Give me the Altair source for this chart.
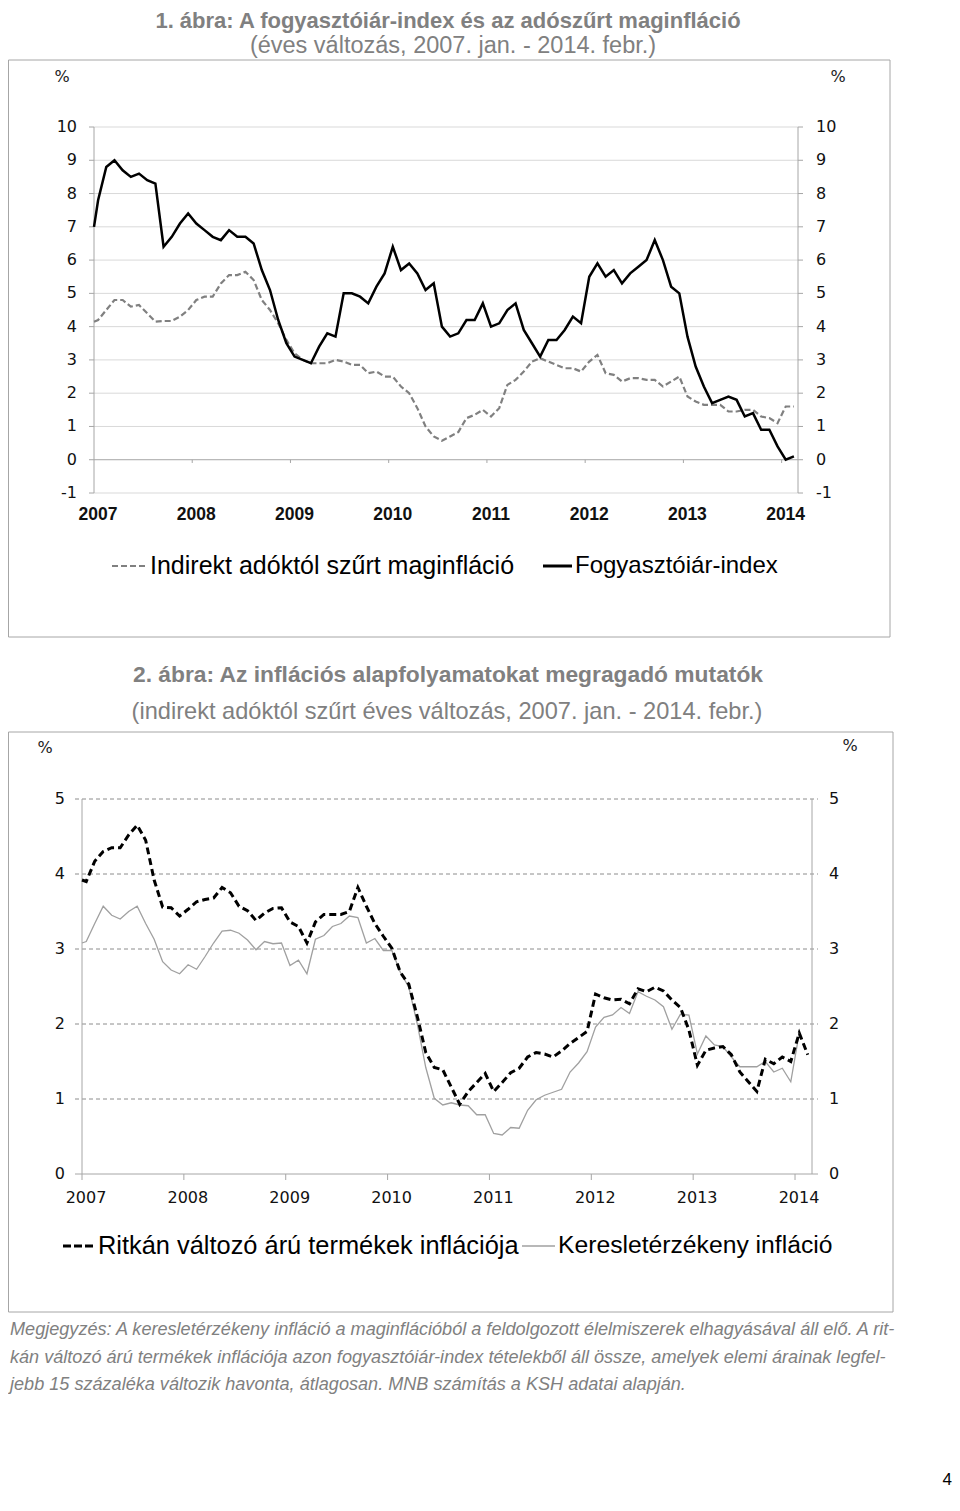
import altair as alt
import pandas as pd

# ------------------------------------------------------------------ data
YEARS = [2007, 2008, 2009, 2010, 2011, 2012, 2013, 2014]
N_MONTHS = 86  # 2007. jan. - 2014. febr.

# 1. ábra (annual change, %), monthly Jan 2007 .. Feb 2014
CPI = [7.8, 8.8, 9.0, 8.7, 8.5, 8.6, 8.4, 8.3, 6.4, 6.7, 7.1, 7.4,
       7.1, 6.9, 6.7, 6.6, 6.9, 6.7, 6.7, 6.5, 5.7, 5.1, 4.2, 3.5,
       3.1, 3.0, 2.9, 3.4, 3.8, 3.7, 5.0, 5.0, 4.9, 4.7, 5.2, 5.6,
       6.4, 5.7, 5.9, 5.6, 5.1, 5.3, 4.0, 3.7, 3.8, 4.2, 4.2, 4.7,
       4.0, 4.1, 4.5, 4.7, 3.9, 3.5, 3.1, 3.6, 3.6, 3.9, 4.3, 4.1,
       5.5, 5.9, 5.5, 5.7, 5.3, 5.6, 5.8, 6.0, 6.6, 6.0, 5.2, 5.0,
       3.7, 2.8, 2.2, 1.7, 1.8, 1.9, 1.8, 1.3, 1.4, 0.9, 0.9, 0.4,
       0.0, 0.1]
CORE = [4.2, 4.5, 4.8, 4.8, 4.6, 4.65, 4.4, 4.15, 4.17, 4.17, 4.3, 4.5,
        4.8, 4.9, 4.9, 5.3, 5.55, 5.55, 5.65, 5.4, 4.8, 4.5, 4.1, 3.6,
        3.2, 3.0, 2.9, 2.9, 2.9, 3.0, 2.95, 2.85, 2.85, 2.6, 2.65, 2.5,
        2.5, 2.2, 2.0, 1.55, 1.0, 0.7, 0.57, 0.7, 0.83, 1.25, 1.35, 1.5,
        1.3, 1.55, 2.25, 2.4, 2.65, 2.95, 3.05, 2.95, 2.85, 2.75, 2.75, 2.65,
        2.95, 3.15, 2.6, 2.55, 2.35, 2.45, 2.45, 2.4, 2.4, 2.2, 2.35, 2.5,
        1.9, 1.75, 1.65, 1.65, 1.65, 1.45, 1.45, 1.5, 1.5, 1.3, 1.25, 1.1,
        1.6, 1.6]
CPI_AT_AXIS, CORE_AT_AXIS = 7.0, 4.15

# 2. ábra
RARE = [3.9, 4.17, 4.3, 4.35, 4.35, 4.52, 4.65, 4.45, 3.92, 3.56, 3.55, 3.44,
        3.53, 3.63, 3.66, 3.68, 3.82, 3.75, 3.57, 3.51, 3.38, 3.48, 3.54, 3.55,
        3.36, 3.3, 3.08, 3.36, 3.46, 3.46, 3.46, 3.5, 3.82, 3.57, 3.34, 3.17,
        3.01, 2.69, 2.53, 2.1, 1.62, 1.42, 1.39, 1.16, 0.93, 1.1, 1.22, 1.34,
        1.1, 1.22, 1.35, 1.41, 1.56, 1.62, 1.6, 1.56, 1.64, 1.74, 1.82, 1.9,
        2.4, 2.35, 2.32, 2.33, 2.27, 2.47, 2.43, 2.49, 2.44, 2.32, 2.22, 1.92,
        1.45, 1.65, 1.68, 1.7, 1.59, 1.36, 1.23, 1.1, 1.53, 1.47, 1.56, 1.5,
        1.88, 1.59]
DEMAND = [3.1, 3.34, 3.57, 3.45, 3.4, 3.5, 3.57, 3.34, 3.13, 2.83, 2.72, 2.67,
          2.79, 2.73, 2.9, 3.08, 3.24, 3.25, 3.21, 3.12, 2.99, 3.1, 3.07, 3.08,
          2.78, 2.85, 2.67, 3.13, 3.18, 3.3, 3.34, 3.44, 3.42, 3.08, 3.14, 2.98,
          2.98, 2.69, 2.49, 2.0, 1.42, 1.01, 0.92, 0.95, 0.92, 0.91, 0.79, 0.79,
          0.54, 0.52, 0.62, 0.61, 0.85, 0.99, 1.05, 1.09, 1.13, 1.36, 1.48, 1.63,
          1.96, 2.09, 2.12, 2.22, 2.14, 2.43, 2.37, 2.32, 2.23, 1.93, 2.13, 2.12,
          1.6, 1.84, 1.72, 1.7, 1.56, 1.43, 1.43, 1.43, 1.5, 1.36, 1.41, 1.23,
          1.88]
RARE_AT_AXIS, DEMAND_AT_AXIS = 3.92, 3.08

Y1_TICKS = list(range(-1, 11))
Y2_TICKS = list(range(0, 6))

TITLE1 = "1. ábra: A fogyasztóiár-index és az adószűrt maginfláció"
SUB1 = "(éves változás, 2007. jan. - 2014. febr.)"
TITLE2 = "2. ábra: Az inflációs alapfolyamatokat megragadó mutatók"
SUB2 = "(indirekt adóktól szűrt éves változás, 2007. jan. - 2014. febr.)"
LEG1 = ["Indirekt adóktól szűrt maginfláció", "Fogyasztóiár-index"]
LEG2 = ["Ritkán változó árú termékek inflációja", "Keresletérzékeny infláció"]
NOTE = [
    "Megjegyzés: A keresletérzékeny infláció a maginflációból a feldolgozott élelmiszerek elhagyásával áll elő. A rit-",
    "kán változó árú termékek inflációja azon fogyasztóiár-index tételekből áll össze, amelyek elemi árainak legfel-",
    "jebb 15 százaléka változik havonta, átlagosan. MNB számítás a KSH adatai alapján.",
]
PAGE = "4"

# ------------------------------------------------------------------ helpers
M = 8  # page margin


def px(v):
    return v - M


SANS = "Liberation Sans, Arial, sans-serif"
TICKF = "DejaVu Sans, Verdana, sans-serif"
GRAY_T = "#808080"
AXC = "#a6a6a6"


def one(**kw):
    return pd.DataFrame({k: [v] for k, v in kw.items()})


def text(t, x, y, size, font=SANS, color="#000000", weight="normal",
         style="normal", align="left"):
    return alt.Chart(one(t=t)).mark_text(
        align=align, baseline="middle", font=font, fontSize=size, color=color,
        fontWeight=weight, fontStyle=style,
    ).encode(text="t:N", x=alt.value(px(x)), y=alt.value(px(y)))


def hline(x1, x2, y, color, width, dash=None):
    kw = dict(color=color, strokeWidth=width)
    if dash:
        kw["strokeDash"] = dash
    return alt.Chart(one(k=0)).mark_rule(**kw).encode(
        x=alt.value(px(x1)), x2=alt.value(px(x2)), y=alt.value(px(y)))


def box(x1, y1, x2, y2):
    return alt.Chart(one(k=0)).mark_rect(fill="white", stroke="#a6a6a6", strokeWidth=1).encode(
        x=alt.value(max(px(x1), 0.5)), x2=alt.value(px(x2)), y=alt.value(px(y1)), y2=alt.value(px(y2)))


def series(values, at_axis):
    m = [0.0] + [i + 0.5 for i in range(len(values))]
    v = [at_axis] + list(values)
    return pd.DataFrame({"m": m, "v": v})


ticks1 = pd.DataFrame({"v": Y1_TICKS, "lab": [str(t) for t in Y1_TICKS]})
ticks2 = pd.DataFrame({"v": Y2_TICKS, "lab": [str(t) for t in Y2_TICKS]})
years = pd.DataFrame({"m": [12 * (y - YEARS[0]) for y in YEARS], "lab": [str(y) for y in YEARS]})

layers = []

# ------------------------------------------------------------------ figure 1
layers += [box(3, 60, 890, 637)]
X1 = alt.Scale(domain=[0, N_MONTHS], range=[px(94), px(798)], zero=False, nice=False)
Y1 = alt.Scale(domain=[-1, 10], range=[px(493), px(127)], zero=False, nice=False)

layers += [
    alt.Chart(ticks1[ticks1.v != 0]).mark_rule(color="#d9d9d9", strokeWidth=1).encode(
        y=alt.Y("v:Q", scale=Y1, axis=None),
        x=alt.X(datum=0, scale=X1, axis=None), x2=alt.X2(datum=N_MONTHS)),
    alt.Chart(ticks1).mark_rule(color=AXC, strokeWidth=1).encode(
        y=alt.Y("v:Q", scale=Y1, axis=None), x=alt.value(px(89)), x2=alt.value(px(94))),
    alt.Chart(ticks1).mark_rule(color=AXC, strokeWidth=1).encode(
        y=alt.Y("v:Q", scale=Y1, axis=None), x=alt.value(px(798)), x2=alt.value(px(803))),
    alt.Chart(one(k=0)).mark_rule(color=AXC, strokeWidth=1).encode(
        y=alt.Y(datum=0, scale=Y1, axis=None),
        x=alt.X(datum=0, scale=X1, axis=None), x2=alt.X2(datum=N_MONTHS)),
    alt.Chart(pd.DataFrame({"m": [0, N_MONTHS]})).mark_rule(color=AXC, strokeWidth=1).encode(
        x=alt.X("m:Q", scale=X1, axis=None),
        y=alt.Y(datum=-1, scale=Y1, axis=None), y2=alt.Y2(datum=10)),
    alt.Chart(years[years.m > 0]).mark_rule(color=AXC, strokeWidth=1).encode(
        x=alt.X("m:Q", scale=X1, axis=None),
        y=alt.Y(datum=0, scale=Y1, axis=None), y2=alt.value(px(463))),
    alt.Chart(ticks1).mark_text(align="right", baseline="middle", font=TICKF, fontSize=16, color="#111").encode(
        y=alt.Y("v:Q", scale=Y1, axis=None), text="lab:N", x=alt.value(px(77))),
    alt.Chart(ticks1).mark_text(align="left", baseline="middle", font=TICKF, fontSize=16, color="#111").encode(
        y=alt.Y("v:Q", scale=Y1, axis=None), text="lab:N", x=alt.value(px(816))),
    alt.Chart(years).mark_text(align="center", baseline="middle", font=SANS, fontSize=17.5,
                               fontWeight="bold", color="#111", dx=4).encode(
        x=alt.X("m:Q", scale=X1, axis=None), text="lab:N", y=alt.value(px(515))),
    alt.Chart(series(CORE, CORE_AT_AXIS)).mark_line(color="#808080", strokeWidth=2.2, strokeDash=[6, 3]).encode(
        x=alt.X("m:Q", scale=X1, axis=None), y=alt.Y("v:Q", scale=Y1, axis=None)),
    alt.Chart(series(CPI, CPI_AT_AXIS)).mark_line(color="#000000", strokeWidth=2.5).encode(
        x=alt.X("m:Q", scale=X1, axis=None), y=alt.Y("v:Q", scale=Y1, axis=None)),
    text(TITLE1, 448, 21, 22, color=GRAY_T, weight="bold", align="center"),
    text(SUB1, 453, 46, 23.5, color=GRAY_T, align="center"),
    text("%", 62, 77, 16, font=TICKF, color="#222", align="center"),
    text("%", 838, 77, 16, font=TICKF, color="#222", align="center"),
    hline(112, 148, 566, "#808080", 2, [6, 3]),
    text(LEG1[0], 150, 566, 25),
    hline(543, 572, 566, "#000000", 3),
    text(LEG1[1], 575, 566, 24),
]

# ------------------------------------------------------------------ figure 2
layers += [box(3, 732, 893, 1312)]
X2 = alt.Scale(domain=[0, N_MONTHS], range=[px(82), px(812)], zero=False, nice=False)
Y2 = alt.Scale(domain=[0, 5], range=[px(1174), px(799)], zero=False, nice=False)

layers += [
    alt.Chart(ticks2[ticks2.v != 0]).mark_rule(color="#8c8c8c", strokeWidth=1, strokeDash=[4, 3]).encode(
        y=alt.Y("v:Q", scale=Y2, axis=None), x=alt.value(px(75)), x2=alt.value(px(818))),
    alt.Chart(one(k=0)).mark_rule(color=AXC, strokeWidth=1).encode(
        y=alt.Y(datum=0, scale=Y2, axis=None), x=alt.value(px(75)), x2=alt.value(px(818))),
    alt.Chart(pd.DataFrame({"m": [0, N_MONTHS]})).mark_rule(color=AXC, strokeWidth=1).encode(
        x=alt.X("m:Q", scale=X2, axis=None),
        y=alt.Y(datum=0, scale=Y2, axis=None), y2=alt.Y2(datum=5)),
    alt.Chart(years).mark_rule(color=AXC, strokeWidth=1).encode(
        x=alt.X("m:Q", scale=X2, axis=None),
        y=alt.Y(datum=0, scale=Y2, axis=None), y2=alt.value(px(1180))),
    alt.Chart(ticks2).mark_text(align="right", baseline="middle", font=TICKF, fontSize=16, color="#111").encode(
        y=alt.Y("v:Q", scale=Y2, axis=None), text="lab:N", x=alt.value(px(65))),
    alt.Chart(ticks2).mark_text(align="left", baseline="middle", font=TICKF, fontSize=16, color="#111").encode(
        y=alt.Y("v:Q", scale=Y2, axis=None), text="lab:N", x=alt.value(px(829))),
    alt.Chart(years).mark_text(align="center", baseline="middle", font=TICKF, fontSize=16,
                               color="#111", dx=4).encode(
        x=alt.X("m:Q", scale=X2, axis=None), text="lab:N", y=alt.value(px(1198))),
    alt.Chart(series(DEMAND, DEMAND_AT_AXIS)).mark_line(color="#a0a0a0", strokeWidth=1.3).encode(
        x=alt.X("m:Q", scale=X2, axis=None), y=alt.Y("v:Q", scale=Y2, axis=None)),
    alt.Chart(series(RARE, RARE_AT_AXIS)).mark_line(color="#000000", strokeWidth=3, strokeDash=[7, 4]).encode(
        x=alt.X("m:Q", scale=X2, axis=None), y=alt.Y("v:Q", scale=Y2, axis=None)),
    text(TITLE2, 448, 675, 22.8, color=GRAY_T, weight="bold", align="center"),
    text(SUB2, 447, 712, 23.6, color=GRAY_T, align="center"),
    text("%", 45, 748, 16, font=TICKF, color="#222", align="center"),
    text("%", 850, 746, 16, font=TICKF, color="#222", align="center"),
    hline(63, 95, 1246, "#000000", 3, [8, 3]),
    text(LEG2[0], 98, 1246, 25.4),
    hline(522, 555, 1246, "#a0a0a0", 1.5),
    text(LEG2[1], 558, 1246, 24.7),
]

# ------------------------------------------------------------------ note and page number
for k, line in enumerate(NOTE):
    layers.append(text(line, 10, 1330 + k * 27.5, 18.1, color=GRAY_T, style="italic"))
layers.append(text(PAGE, 952, 1480, 17, align="right"))

chart = alt.layer(*layers).resolve_scale(x="independent", y="independent").properties(
    width=944, height=1488, autosize="none", padding=0,
).configure_view(strokeWidth=0)

chart.save("out.html", embed_options={"renderer": "svg", "actions": False})
